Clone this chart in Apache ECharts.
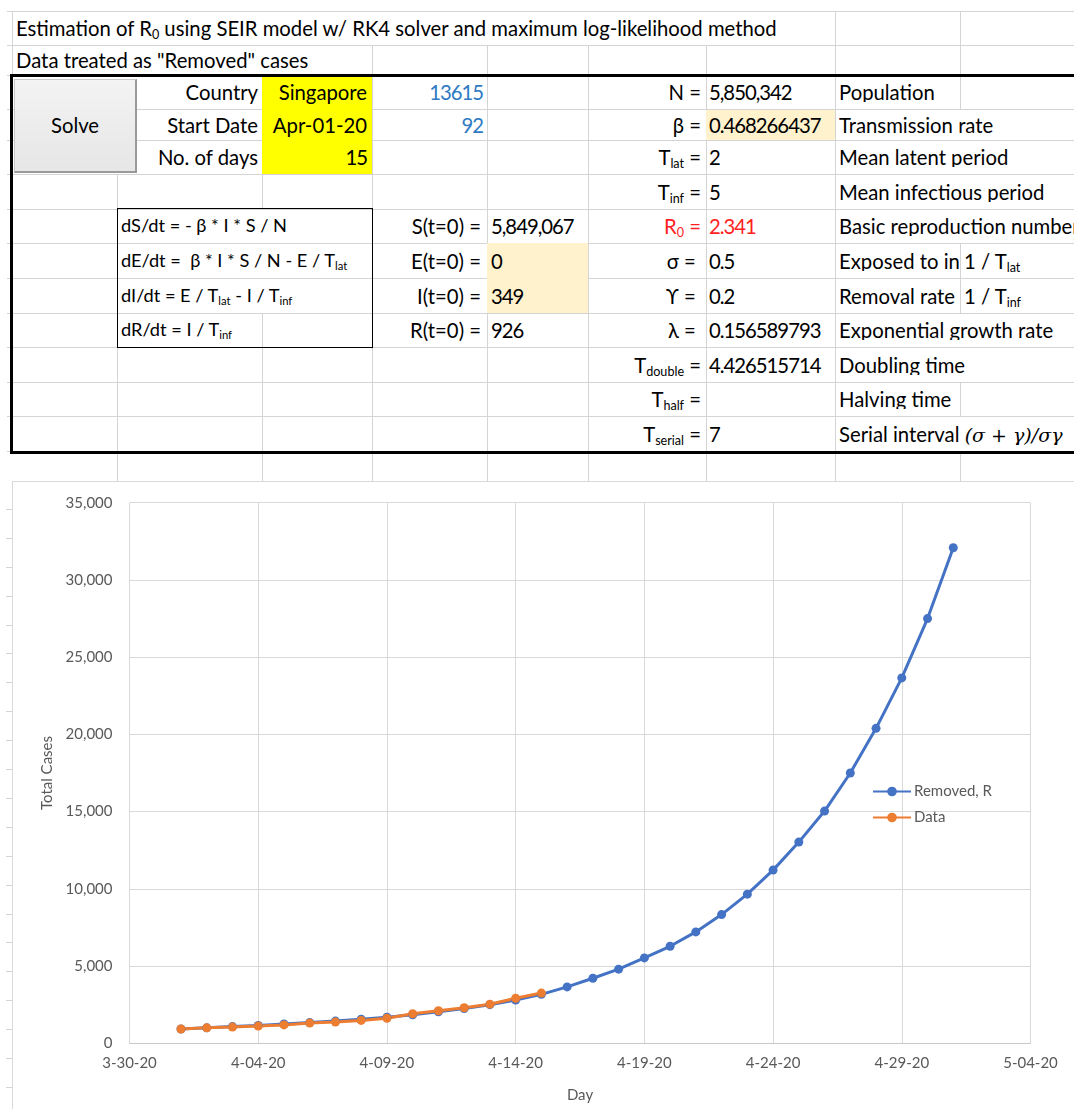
<!DOCTYPE html>
<html>
<head>
<meta charset="utf-8">
<script src="https://cdn.jsdelivr.net/npm/echarts@6/dist/echarts.min.js"></script>
<style>
  html, body { margin: 0; padding: 0; background: #fff; }
  body { width: 1074px; height: 1109px; position: relative; overflow: hidden; font-family: Lato, "Open Sans", sans-serif; }
  .t { position: absolute; white-space: nowrap; font-size: 20.3px; color: #000; line-height: 1; }
  .eq { font-size: 18.2px; }
  .num { letter-spacing: -1px; }
  .hl { position: absolute; height: 1px; background: #d4d4d4; }
  .vl { position: absolute; width: 1px; background: #d4d4d4; }
  .fill { position: absolute; }
  sub { font-size: 0.62em; vertical-align: -0.25em; line-height: 0; }
  .math { font-family: "DejaVu Serif", serif; font-style: italic; font-size: 19px; }
  #chart { position: absolute; left: 12px; top: 481px; width: 1062px; height: 628px; }
</style>
</head>
<body>
<div id="sheet"></div>
<div id="chart"></div>
<script>
// ---------------- chart data ----------------
const axisStartDate = '2020-03-30';
const xTickStep = 5;       // days between x ticks
const xSpanDays = 35;      // 3-30-20 .. 5-04-20
const yTicks = [0, 5000, 10000, 15000, 20000, 25000, 30000, 35000];

const modelDates = ['2020-04-01','2020-04-02','2020-04-03','2020-04-04','2020-04-05','2020-04-06','2020-04-07','2020-04-08',
  '2020-04-09','2020-04-10','2020-04-11','2020-04-12','2020-04-13','2020-04-14','2020-04-15','2020-04-16','2020-04-17',
  '2020-04-18','2020-04-19','2020-04-20','2020-04-21','2020-04-22','2020-04-23','2020-04-24','2020-04-25','2020-04-26',
  '2020-04-27','2020-04-28','2020-04-29','2020-04-30','2020-05-01'];
const removedR = [926, 1000, 1080, 1160, 1250, 1340, 1440, 1560, 1690, 1850, 2040, 2250, 2500, 2800, 3170, 3650, 4210,
  4800, 5530, 6280, 7213, 8335, 9657, 11212, 13027, 15036, 17499, 20390, 23656, 27499, 32081];

const dataDates = modelDates.slice(0, 15);
const dataCases = [926, 1000, 1049, 1114, 1189, 1309, 1375, 1481, 1623, 1910, 2108, 2299, 2532, 2918, 3252];

// ---------------- spreadsheet (table) ----------------
const rowY = [11, 45, 75, 109, 140, 174, 209, 243, 278, 313, 347, 382, 416, 451];
const A = 12, B = 117, C = 262, D = 372, E = 487, F = 588, G = 706, H = 835, I = 960;

const sheet = document.getElementById('sheet');
function el(cls, style, html) {
  const d = document.createElement('div');
  d.className = cls;
  Object.assign(d.style, style);
  if (html !== undefined) d.innerHTML = html;
  sheet.appendChild(d);
  return d;
}
// horizontal gridlines
for (const y of rowY) el('hl', { left: '7px', top: y + 'px', width: '1067px' });
// vertical gridlines per row
const vByRow = [
  [A, H, I],
  [A, D, E, F, G, H, I],
  [D, E, F, G, H, I],
  [D, E, F, G, H],
  [D, E, F, G, H],
  [B, C, D, E, F, G, H],
  [E, F, G, H],
  [E, F, G, H, I],
  [E, F, G, H, I],
  [C, E, F, G, H],
  [B, C, D, E, F, G, H],
  [B, C, D, E, F, G, H, I],
  [B, C, D, E, F, G, H]
];
vByRow.forEach((xs, r) => {
  xs.forEach(x => el('vl', { left: x + 'px', top: rowY[r] + 'px', height: (rowY[r + 1] - rowY[r]) + 'px' }));
});
// strip below table
[B, C, D, E, F, G, H, I].forEach(x => el('vl', { left: x + 'px', top: '453px', height: '28px' }));
// row stubs left of chart
for (let y = 509; y < 1109; y += 28.9) el('hl', { left: '6px', top: Math.round(y) + 'px', width: '6px' });

// fills
el('fill', { left: C + 'px', top: '75px', width: (D - C) + 'px', height: '99px', background: '#ffff00' });
el('fill', { left: G + 'px', top: '110px', width: (H - G) + 'px', height: '30px', background: '#fff2cc' });
el('fill', { left: E + 'px', top: '243px', width: (F - E) + 'px', height: '70px', background: '#fff2cc' });

// equation box
el('fill', { left: B + 'px', top: '208px', width: (D - B - 1) + 'px', height: '138px', border: '1px solid #000' });

// outer thick border
el('fill', { left: '10px', top: '74px', width: '1080px', height: '374px', border: '3px solid #000' });

// solve button
el('fill', { left: '14px', top: '79px', width: '120px', height: '91px', background: 'linear-gradient(#f3f3f3,#e6e6e6)',
  borderTop: '1px solid #c8c8c8', borderLeft: '1px solid #c8c8c8', borderRight: '2px solid #9a9a9a', borderBottom: '2px solid #9a9a9a' });
el('t', { left: '14px', width: '122px', top: '115px', textAlign: 'center' }, 'Solve');

function rowTop(r) { return (rowY[r] + rowY[r + 1]) / 2 - 10; }
function L(r, x, html, extra, cls) { el('t' + (cls ? ' ' + cls : ''), Object.assign({ left: x + 'px', top: rowTop(r) + 'px' }, extra || {}), html); }
function R(r, xr, html, extra, cls) { el('t' + (cls ? ' ' + cls : ''), Object.assign({ right: (1074 - xr) + 'px', top: rowTop(r) + 'px' }, extra || {}), html); }

L(0, 16, 'Estimation of R<sub>0</sub> using SEIR model w/ RK4 solver and maximum log-likelihood method');
L(1, 16, 'Data treated as "Removed" cases');

const blue = { color: '#2e7bc4' };
const red = { color: '#ff1f1f' };
R(2, 258, 'Country'); R(2, 367, 'Singapore'); R(2, 483, '13615', blue, 'num');
R(3, 258, 'Start Date'); R(3, 367, 'Apr-01-20'); R(3, 483, '92', blue, 'num');
R(4, 258, 'No. of days'); R(4, 367, '15', null, 'num');

const leftLab = ['N =', 'β =', 'T<sub>lat</sub> =', 'T<sub>inf</sub> =', 'R<sub>0</sub> =', 'σ =&nbsp;', 'ϒ =&nbsp;', 'λ =&nbsp;',
  'T<sub>double</sub> =', 'T<sub>half</sub> =', 'T<sub>serial</sub> ='];
const vals = ['5,850,342', '0.468266437', '2', '5', '2.341', '0.5', '0.2', '0.156589793', '4.426515714', '', '7'];
const descr = ['Population', 'Transmission rate', 'Mean latent period', 'Mean infectious period', 'Basic reproduction number',
  'Exposed to in', 'Removal rate', 'Exponential growth rate', 'Doubling time', 'Halving time',
  'Serial interval <span class="math">(σ + γ)/σγ</span>'];
leftLab.forEach((s, i) => {
  const r = i + 2;
  R(r, G - 5, s, i === 4 ? red : undefined);
  L(r, G + 3, vals[i], i === 4 ? red : undefined, 'num');
  el('t', { left: (H + 4) + 'px', top: rowTop(r) + 'px', overflow: 'hidden', width: (i === 5 ? (I - H - 5) : 300) + 'px' }, descr[i]);
});
L(7, I + 4, '1 / T<sub>lat</sub>');
L(8, I + 4, '1 / T<sub>inf</sub>');

L(6, B + 4, 'dS/dt = - β * I * S / N', null, 'eq');
L(7, B + 4, 'dE/dt =&nbsp; β * I * S / N - E / T<sub>lat</sub>', null, 'eq');
L(8, B + 4, 'dI/dt = E / T<sub>lat</sub> - I / T<sub>inf</sub>', null, 'eq');
L(9, B + 4, 'dR/dt = I / T<sub>inf</sub>', null, 'eq');
R(6, E - 6, 'S(t=0) ='); L(6, E + 4, '5,849,067', null, 'num');
R(7, E - 6, 'E(t=0) ='); L(7, E + 4, '0', null, 'num');
R(8, E - 6, 'I(t=0) ='); L(8, E + 4, '349', null, 'num');
R(9, E - 6, 'R(t=0) ='); L(9, E + 4, '926', null, 'num');

// ---------------- chart ----------------
const DAY = 86400000;
const t0 = Date.parse(axisStartDate);
const dayOffset = d => (Date.parse(d) - t0) / DAY;

const chartEl = document.getElementById('chart');
chartEl.style.borderLeft = '1px solid #d9d9d9';
chartEl.style.borderTop = '1px solid #d9d9d9';
const chart = echarts.init(chartEl, null, { renderer: 'canvas' });
const gray = '#595959';
const font = 'Lato, "Open Sans", sans-serif';
chart.setOption({
  animation: false,
  backgroundColor: '#fff',
  grid: { left: 116.5, right: 44.5, top: 20.7, bottom: 66.7, containLabel: false },
  xAxis: {
    type: 'value', min: 0, max: xSpanDays, interval: xTickStep,
    name: 'Day', nameLocation: 'middle', nameGap: 44,
    nameTextStyle: { color: gray, fontSize: 15, fontFamily: font },
    axisLine: { show: true, lineStyle: { color: '#c8c8c8', width: 1 } },
    axisTick: { show: false },
    axisLabel: {
      color: gray, fontSize: 15, fontFamily: font, margin: 12,
      formatter: v => {
        const d = new Date(t0 + v * DAY);
        const m = d.getUTCMonth() + 1, dd = String(d.getUTCDate()).padStart(2, '0'), yy = String(d.getUTCFullYear()).slice(2);
        return m + '-' + dd + '-' + yy;
      }
    },
    splitLine: { show: true, lineStyle: { color: '#d9d9d9', width: 1 } }
  },
  yAxis: {
    type: 'value', min: yTicks[0], max: yTicks[yTicks.length - 1], interval: yTicks[1] - yTicks[0],
    name: 'Total Cases', nameLocation: 'middle', nameGap: 74, nameRotate: 90,
    nameTextStyle: { color: gray, fontSize: 15, fontFamily: font },
    axisLine: { show: false }, axisTick: { show: false },
    axisLabel: { color: gray, fontSize: 15, fontFamily: font, margin: 17,
      formatter: v => v.toLocaleString('en-US') },
    splitLine: { show: true, lineStyle: { color: '#d9d9d9', width: 1 } }
  },
  legend: {
    orient: 'vertical', left: 854, top: 297, itemWidth: 38, itemHeight: 12, itemGap: 11,
    textStyle: { color: gray, fontSize: 15, fontFamily: font, padding: [0, 0, 0, -2] },
    data: ['Removed, R', 'Data']
  },
  series: [
    {
      name: 'Removed, R', type: 'line', symbol: 'circle', symbolSize: 9,
      lineStyle: { color: '#4472c4', width: 3 }, itemStyle: { color: '#4472c4' },
      data: modelDates.map((d, i) => [dayOffset(d), removedR[i]])
    },
    {
      name: 'Data', type: 'line', symbol: 'circle', symbolSize: 9,
      lineStyle: { color: '#ed7d31', width: 3 }, itemStyle: { color: '#ed7d31' },
      data: dataDates.map((d, i) => [dayOffset(d), dataCases[i]])
    }
  ]
});
</script>
</body>
</html>
